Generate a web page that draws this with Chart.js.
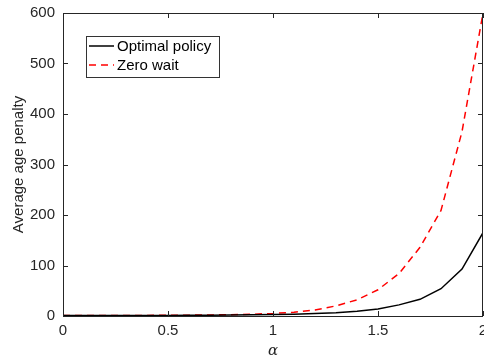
<!DOCTYPE html>
<html>
<head>
<meta charset="utf-8">
<script src="https://cdn.jsdelivr.net/npm/chart.js@4"></script>
<style>
  body { margin: 0; background: #fff; }
</style>
</head>
<body>
<canvas id="chart" width="484" height="360"></canvas>
<script>
// datos
const alphaValues = [0, 0.1, 0.2, 0.3, 0.4, 0.5, 0.6, 0.7, 0.8, 0.9, 1.0, 1.1, 1.2, 1.3, 1.4, 1.5, 1.6, 1.7, 1.8, 1.9, 2.0];
const optimalPolicy = [1, 1, 1, 1, 1, 1.2, 1.4, 1.7, 2, 2.4, 3, 3.7, 4.8, 6.5, 9.5, 14, 22, 33, 54, 93, 165];
const zeroWait = [1, 1, 1, 1.1, 1.2, 1.4, 1.7, 2.1, 2.6, 3.5, 5, 7.5, 12, 20, 32, 52, 84, 136, 209, 365, 600];
const xTicks = [0, 0.5, 1, 1.5, 2];
const yTicks = [0, 100, 200, 300, 400, 500, 600];

const FONT = '"Liberation Sans", Arial, sans-serif';
const AXIS_COLOR = '#262626';

const toPoints = (ys) => alphaValues.map((x, i) => ({ x: x, y: ys[i] }));

// caja y marcas hacia dentro (estilo MATLAB)
const boxPlugin = {
    id: 'boxPlugin',
    afterDatasetsDraw(chart) {
        const ctx = chart.ctx;
        const a = chart.chartArea;
        const xs = chart.scales.x;
        const ys = chart.scales.y;
        const len = 5;
        ctx.save();
        ctx.strokeStyle = AXIS_COLOR;
        ctx.lineWidth = 1;
        ctx.beginPath();
        xTicks.forEach(v => {
            const px = Math.round(xs.getPixelForValue(v)) + 0.5;
            ctx.moveTo(px, a.bottom);
            ctx.lineTo(px, a.bottom - len);
            ctx.moveTo(px, a.top);
            ctx.lineTo(px, a.top + len);
        });
        yTicks.forEach(v => {
            const py = Math.round(ys.getPixelForValue(v)) + 0.5;
            ctx.moveTo(a.left, py);
            ctx.lineTo(a.left + len, py);
            ctx.moveTo(a.right, py);
            ctx.lineTo(a.right - len, py);
        });
        ctx.stroke();
        ctx.strokeRect(Math.round(a.left) + 0.5, Math.round(a.top) + 0.5,
            Math.round(a.right - a.left) - 1, Math.round(a.bottom - a.top));

        // leyenda
        const lx = 86, ly = 36, lw = 133, lh = 41;
        ctx.fillStyle = '#fff';
        ctx.fillRect(lx, ly, lw, lh);
        ctx.strokeStyle = '#333';
        ctx.strokeRect(lx + 0.5, ly + 0.5, lw, lh);
        chart.data.datasets.forEach((ds, i) => {
            const y = 46 + i * 19;
            ctx.strokeStyle = ds.borderColor;
            ctx.lineWidth = 1.5;
            ctx.setLineDash(ds.borderDash || []);
            ctx.beginPath();
            ctx.moveTo(89, y);
            ctx.lineTo(114, y);
            ctx.stroke();
            ctx.setLineDash([]);
            ctx.fillStyle = '#000';
            ctx.font = '15px ' + FONT;
            ctx.textBaseline = 'middle';
            ctx.fillText(ds.label, 117, y + 1);
        });
        ctx.restore();
    }
};

const ctx = document.getElementById('chart').getContext('2d');

const chart = new Chart(ctx, {
    type: 'line',
    data: {
        datasets: [{
            label: 'Optimal policy',
            data: toPoints(optimalPolicy),
            borderColor: '#000000',
            borderWidth: 1.5,
            pointRadius: 0,
            fill: false,
            tension: 0
        }, {
            label: 'Zero wait',
            data: toPoints(zeroWait),
            borderColor: '#ff0000',
            borderWidth: 1.5,
            borderDash: [7, 5],
            pointRadius: 0,
            fill: false,
            tension: 0
        }]
    },
    options: {
        responsive: false,
        animation: false,
        layout: { padding: { left: 0, right: 1, top: 13, bottom: 0 } },
        plugins: {
            legend: { display: false },
            tooltip: { enabled: false }
        },
        scales: {
            x: {
                type: 'linear',
                min: 0,
                max: 2,
                afterBuildTicks: (s) => { s.ticks = xTicks.map(v => ({ value: v })); },
                afterFit: (s) => { s.height = 44; s.paddingLeft = 0; s.paddingRight = 0; },
                grid: { display: false, drawTicks: false },
                border: { display: false },
                ticks: {
                    padding: 6,
                    maxRotation: 0,
                    color: AXIS_COLOR,
                    font: { family: FONT, size: 15 },
                    callback: (v) => String(v)
                },
                title: {
                    display: true,
                    text: 'α',
                    color: AXIS_COLOR,
                    font: { family: '"DejaVu Serif", "Liberation Serif", serif', size: 15, style: 'italic' },
                    padding: { top: 4, bottom: 0 }
                }
            },
            y: {
                min: 0,
                max: 600,
                afterBuildTicks: (s) => { s.ticks = yTicks.map(v => ({ value: v })); },
                afterFit: (s) => { s.width = 63; s.paddingTop = 0; s.paddingBottom = 0; },
                grid: { display: false, drawTicks: false },
                border: { display: false },
                ticks: {
                    padding: 8,
                    color: AXIS_COLOR,
                    font: { family: FONT, size: 15 },
                    callback: (v) => String(v)
                },
                title: {
                    display: true,
                    text: 'Average age penalty',
                    color: AXIS_COLOR,
                    font: { family: FONT, size: 15 },
                    padding: { top: 10, bottom: 0 }
                }
            }
        }
    },
    plugins: [boxPlugin]
});
</script>
</body>
</html>
